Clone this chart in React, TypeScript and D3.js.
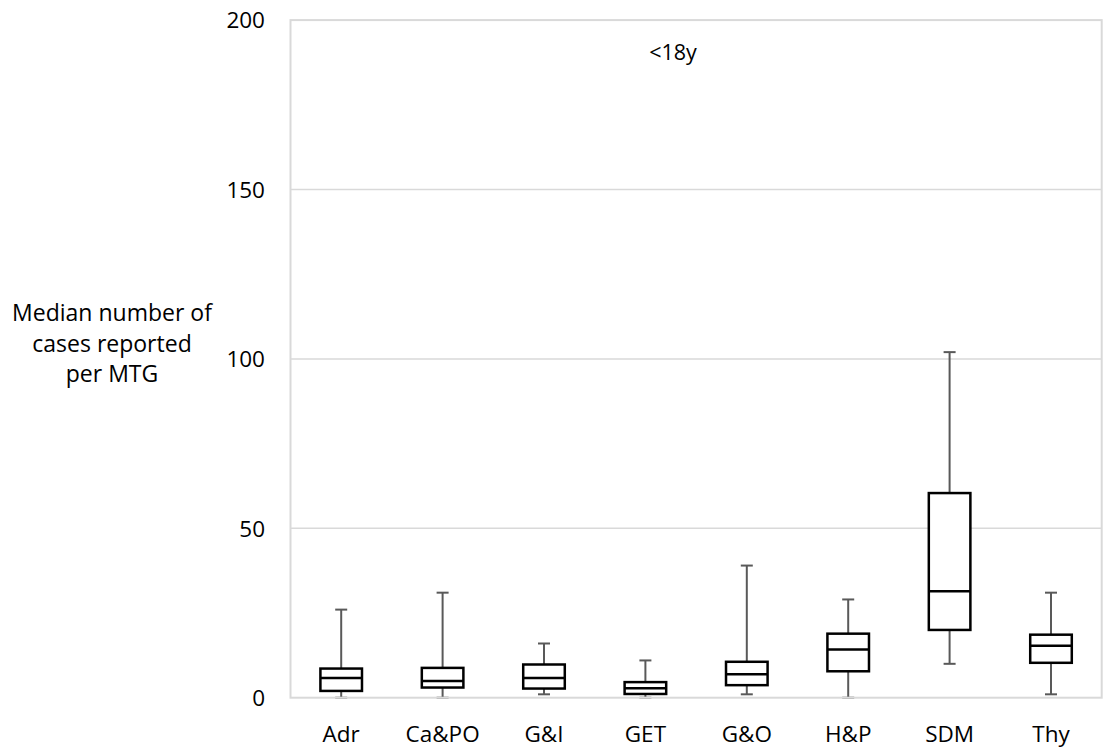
import { useEffect, useRef } from "react";
import * as d3 from "d3";

// values
const categories = ["Adr", "Ca&PO", "G&I", "GET", "G&O", "H&P", "SDM", "Thy"];
const mins = [0, 0, 1, 0, 1, 0, 10, 1];
const q1s = [2, 3, 2.7, 1.1, 3.7, 7.8, 20, 10.3];
const medians = [5.8, 4.9, 5.8, 2.8, 6.9, 14.2, 31.4, 15.3];
const q3s = [8.6, 8.8, 9.8, 4.6, 10.6, 18.9, 60.4, 18.6];
const maxs = [26, 31, 16, 11, 39, 29, 102, 31];
const yTicks = [0, 50, 100, 150, 200];
const yLabelLines = ["Median number of", "cases reported", "per MTG"];
const title = "<18y";

const App = () => {
  const svgRef = useRef<SVGSVGElement>(null);

  useEffect(() => {
    const w = 1104;
    const h = 749;
    const left = 290.5;
    const right = 1101.7;
    const top = 20.1;
    const bottom = 697.7;
    const font = "'Open Sans', sans-serif";

    const svg = d3.select(svgRef.current).attr("width", w).attr("height", h);
    svg.selectAll("*").remove();

    const x = d3.scaleBand().domain(categories).range([left, right]).padding(0);
    const y = d3.scaleLinear().domain([0, 200]).range([bottom, top]);

    const boxes = categories.map((c, i) => ({
      c,
      min: mins[i],
      q1: q1s[i],
      med: medians[i],
      q3: q3s[i],
      max: maxs[i],
    }));

    // gridlines
    svg
      .append("g")
      .selectAll("line")
      .data(yTicks.slice(1, -1))
      .join("line")
      .attr("x1", left)
      .attr("x2", right)
      .attr("y1", (d) => y(d))
      .attr("y2", (d) => y(d))
      .attr("stroke", "#d9d9d9")
      .attr("stroke-width", 1.5);

    const bw = x.bandwidth() * 0.41;
    const capW = 12;
    const cx = (d: { c: string }) => (x(d.c) as number) + x.bandwidth() / 2;

    // whiskers
    const wg = svg.append("g").attr("stroke", "#595959").attr("stroke-width", 2);
    wg.selectAll(".up")
      .data(boxes)
      .join("line")
      .attr("x1", cx)
      .attr("x2", cx)
      .attr("y1", (d) => y(d.q3))
      .attr("y2", (d) => y(d.max));
    wg.selectAll(".down")
      .data(boxes)
      .join("line")
      .attr("class", "down")
      .attr("x1", cx)
      .attr("x2", cx)
      .attr("y1", (d) => y(d.q1))
      .attr("y2", (d) => y(d.min));
    wg.selectAll(".capTop")
      .data(boxes)
      .join("line")
      .attr("class", "capTop")
      .attr("x1", (d) => cx(d) - capW / 2)
      .attr("x2", (d) => cx(d) + capW / 2)
      .attr("y1", (d) => y(d.max))
      .attr("y2", (d) => y(d.max));
    wg.selectAll(".capBot")
      .data(boxes)
      .join("line")
      .attr("class", "capBot")
      .attr("x1", (d) => cx(d) - capW / 2)
      .attr("x2", (d) => cx(d) + capW / 2)
      .attr("y1", (d) => y(d.min))
      .attr("y2", (d) => y(d.min));

    // plot frame
    svg
      .append("rect")
      .attr("x", left)
      .attr("y", top)
      .attr("width", right - left)
      .attr("height", bottom - top)
      .attr("fill", "none")
      .attr("stroke", "#d9d9d9")
      .attr("stroke-width", 2);

    // boxes
    svg
      .append("g")
      .selectAll("rect")
      .data(boxes)
      .join("rect")
      .attr("x", (d) => cx(d) - bw / 2)
      .attr("width", bw)
      .attr("y", (d) => y(d.q3))
      .attr("height", (d) => y(d.q1) - y(d.q3))
      .attr("fill", "#fff")
      .attr("stroke", "#000")
      .attr("stroke-width", 2.5);

    svg
      .append("g")
      .selectAll("line")
      .data(boxes)
      .join("line")
      .attr("x1", (d) => cx(d) - bw / 2)
      .attr("x2", (d) => cx(d) + bw / 2)
      .attr("y1", (d) => y(d.med))
      .attr("y2", (d) => y(d.med))
      .attr("stroke", "#000")
      .attr("stroke-width", 2.5);

    // y tick labels
    svg
      .append("g")
      .selectAll("text")
      .data(yTicks)
      .join("text")
      .attr("x", 265)
      .attr("y", (d) => y(d))
      .attr("dy", "0.37em")
      .attr("text-anchor", "end")
      .style("font-family", font)
      .style("font-size", "22.5px")
      .attr("fill", "#000")
      .text((d) => d);

    // x labels
    svg
      .append("g")
      .selectAll("text")
      .data(categories)
      .join("text")
      .attr("x", (d) => (x(d) as number) + x.bandwidth() / 2)
      .attr("y", 741.5)
      .attr("text-anchor", "middle")
      .style("font-family", font)
      .style("font-size", "22.5px")
      .attr("fill", "#000")
      .text((d) => d);

    // y axis title
    svg
      .append("g")
      .selectAll("text")
      .data(yLabelLines)
      .join("text")
      .attr("x", 112)
      .attr("y", (d, i) => 321 + i * 30.5)
      .attr("text-anchor", "middle")
      .style("font-family", font)
      .style("font-size", "23px")
      .attr("fill", "#000")
      .text((d) => d);

    svg
      .append("text")
      .attr("x", 673)
      .attr("y", 60)
      .attr("text-anchor", "middle")
      .style("font-family", font)
      .style("font-size", "21.5px")
      .attr("fill", "#000")
      .text(title);
  }, []);

  return (
    <svg
      ref={svgRef}
      style={{ position: "absolute", left: 0, top: 0, display: "block", background: "#fff" }}
    ></svg>
  );
};

export default App;
